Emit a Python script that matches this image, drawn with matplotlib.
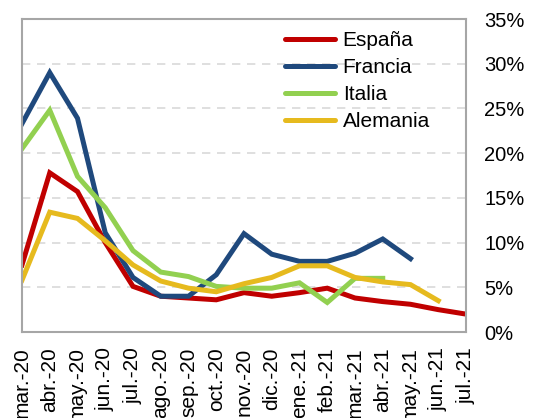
import matplotlib
matplotlib.use("Agg")
import matplotlib.pyplot as plt
from matplotlib.ticker import FuncFormatter, MultipleLocator
import numpy as np

months = ["mar.-20", "abr.-20", "may.-20", "jun.-20", "jul.-20", "ago.-20", "sep.-20",
          "oct.-20", "nov.-20", "dic.-20", "ene.-21", "feb.-21", "mar.-21", "abr.-21",
          "may.-21", "jun.-21", "jul.-21"]

espana = [7.5, 17.8, 15.7, 10.0, 5.1, 4.0, 3.8, 3.6, 4.4, 4.0, 4.4, 4.9, 3.8, 3.4, 3.1, 2.5, 2.0]
francia = [23.3, 29.0, 23.9, 11.1, 6.1, 4.0, 4.0, 6.4, 11.0, 8.7, 7.9, 7.9, 8.8, 10.4, 8.2, None, None]
italia = [20.5, 24.8, 17.4, 13.9, 9.1, 6.7, 6.2, 5.1, 4.9, 4.9, 5.5, 3.3, 6.0, 6.0, None, None, None]
alemania = [5.8, 13.4, 12.7, 10.2, 7.5, 5.7, 4.9, 4.5, 5.4, 6.1, 7.4, 7.4, 6.1, 5.6, 5.3, 3.5, None]

series = [("España", espana, "#C00000"),
          ("Francia", francia, "#1F497D"),
          ("Italia", italia, "#92D050"),
          ("Alemania", alemania, "#E6BA1E")]

plt.rcParams['font.family'] = ['Liberation Sans', 'DejaVu Sans']

fig = plt.figure(figsize=(5.34, 4.18), dpi=100)
ax = fig.add_axes([22/534, 1 - 332/418, (466-22)/534, (332-19)/418])

x = np.arange(len(months))
for name, vals, col in series:
    v = np.array([np.nan if a is None else a for a in vals], dtype=float)
    ax.plot(x, v, color=col, lw=3.6, label=name, solid_joinstyle='miter')

ax.set_xlim(0, len(months) - 1)
ax.set_ylim(0, 35)
ax.yaxis.set_major_locator(MultipleLocator(5))
ax.yaxis.set_major_formatter(FuncFormatter(lambda v, p: f"{int(round(v))}%"))
ax.yaxis.tick_right()
ax.set_xticks(x)
ax.set_xticklabels(months, rotation=90, fontsize=15)
ax.tick_params(axis='y', length=0, pad=13, labelsize=14.5)
ax.tick_params(axis='x', length=0, pad=11)
for t in ax.get_yticklabels():
    t.set_horizontalalignment('left')

ax.grid(axis='y', color='#d9d9d9', linestyle=(0, (5, 4)), lw=1.2)
ax.set_axisbelow(True)
for s in ax.spines.values():
    s.set_color('#a6a6a6')
    s.set_linewidth(1.5)

leg = ax.legend(loc='upper left', bbox_to_anchor=(285/534, 1 - 31.5/418),
                bbox_transform=fig.transFigure, frameon=False,
                fontsize=15, handlelength=2.42, handletextpad=0.35, labelspacing=0.38,
                borderaxespad=0, borderpad=0)
for h in leg.get_lines():
    h.set_linewidth(3.6)
    h.set_solid_capstyle('round')

fig.savefig("out.png", dpi=100)
